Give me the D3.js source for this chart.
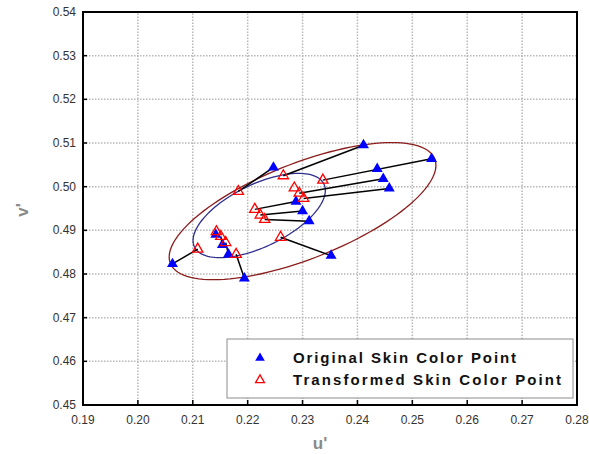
<!DOCTYPE html>
<meta charset="utf-8" />
<script src="https://d3js.org/d3.v7.min.js"></script>
<style>
  body { margin: 0; background: #fff; }
  text { font-family: "Liberation Sans", Arial, sans-serif; }
</style>
<body>
<div id="chart"></div>
<script>
  // original skin colour points (blue) and where each one was moved to (red)
  const origU = [0.2063, 0.2247, 0.2288, 0.2142, 0.2154, 0.2165, 0.2194, 0.2411, 0.2535, 0.2436, 0.2447, 0.2458, 0.2300, 0.2312, 0.2352];
  const origV = [0.4823, 0.5044, 0.4966, 0.4890, 0.4867, 0.4845, 0.4790, 0.5095, 0.5064, 0.5041, 0.5018, 0.4996, 0.4944, 0.4921, 0.4842];
  const transU = [0.2109, 0.2183, 0.2213, 0.2143, 0.2151, 0.2160, 0.2179, 0.2265, 0.2337, 0.2285, 0.2294, 0.2302, 0.2223, 0.2231, 0.2260];
  const transV = [0.4857, 0.4989, 0.4948, 0.4897, 0.4886, 0.4872, 0.4845, 0.5025, 0.5015, 0.4997, 0.4985, 0.4973, 0.4935, 0.4925, 0.4884];
  // which original -> transformed pairs have a visible connecting line
  const linked = [0, 1, 2, 3, 4, 5, 6, 7, 8, 10, 11, 12, 13, 14];

  // the two boundary ellipses: centre, half ranges and phase (deg)
  const ellCu = [0.2300, 0.2221];
  const ellCv = [0.4944, 0.4934];
  const ellRu = [0.0243, 0.01205];
  const ellRv = [0.0157, 0.00965];
  const ellPhase = [48, 53.5];
  const ellColor = ["#8b1c1c", "#2e2e8c"];

  const xTicks = [0.19, 0.20, 0.21, 0.22, 0.23, 0.24, 0.25, 0.26, 0.27, 0.28];
  const yTicks = [0.45, 0.46, 0.47, 0.48, 0.49, 0.50, 0.51, 0.52, 0.53, 0.54];
  const legendLabels = ["Original Skin Color Point", "Transformed Skin Color Point"];

  const W = 589, H = 454;
  const margin = {top: 12, right: 12, bottom: 49, left: 83};

  const svg = d3.select("#chart").append("svg")
    .attr("width", W).attr("height", H);

  const x = d3.scaleLinear().domain([0.19, 0.28]).range([margin.left, W - margin.right]);
  const y = d3.scaleLinear().domain([0.45, 0.54]).range([H - margin.bottom, margin.top]);

  // grid
  const grid = svg.append("g").attr("stroke", "#b8b8b8").attr("stroke-width", 1.5)
    .attr("stroke-dasharray", "1.5,1.5");
  grid.selectAll("line.gx").data(xTicks.slice(1, -1)).enter().append("line")
    .attr("x1", d => x(d)).attr("x2", d => x(d))
    .attr("y1", y.range()[0]).attr("y2", y.range()[1]);
  grid.selectAll("line.gy").data(yTicks.slice(1, -1)).enter().append("line")
    .attr("y1", d => y(d)).attr("y2", d => y(d))
    .attr("x1", x.range()[0]).attr("x2", x.range()[1]);

  // ellipses
  const angles = d3.range(0, 360, 3);
  const ellLine = d3.line().x(d => x(d[0])).y(d => y(d[1])).curve(d3.curveLinearClosed);
  ellCu.forEach(function(cu, i) {
    const pts = angles.map(function(a) {
      const t = a * Math.PI / 180, p = ellPhase[i] * Math.PI / 180;
      return [cu + ellRu[i] * Math.cos(t), ellCv[i] + ellRv[i] * Math.cos(t - p)];
    });
    svg.append("path").attr("d", ellLine(pts))
      .attr("fill", "none").attr("stroke", ellColor[i]).attr("stroke-width", 1.3);
  });

  // connecting lines
  svg.append("g").selectAll("line").data(linked).enter().append("line")
    .attr("x1", i => x(origU[i])).attr("y1", i => y(origV[i]))
    .attr("x2", i => x(transU[i])).attr("y2", i => y(transV[i]))
    .attr("stroke", "#000").attr("stroke-width", 1.5);

  const tri = d3.symbol(d3.symbolTriangle);

  svg.append("g").selectAll("path").data(origU).enter().append("path")
    .attr("d", tri.size(52)())
    .attr("transform", (d, i) => "translate(" + x(d) + "," + y(origV[i]) + ")")
    .attr("fill", "#0000ff");

  svg.append("g").selectAll("path").data(transU).enter().append("path")
    .attr("d", tri.size(46)())
    .attr("transform", (d, i) => "translate(" + x(d) + "," + y(transV[i]) + ")")
    .attr("fill", "none").attr("stroke", "#ff0000").attr("stroke-width", 1.3);

  // ticks (inside) on bottom and left
  svg.append("g").selectAll("line").data(xTicks.slice(1, -1)).enter().append("line")
    .attr("x1", d => x(d)).attr("x2", d => x(d))
    .attr("y1", y.range()[0]).attr("y2", y.range()[0] - 5)
    .attr("stroke", "#000").attr("stroke-width", 1.5);
  svg.append("g").selectAll("line").data(yTicks.slice(1, -1)).enter().append("line")
    .attr("y1", d => y(d)).attr("y2", d => y(d))
    .attr("x1", x.range()[0]).attr("x2", x.range()[0] + 4)
    .attr("stroke", "#000").attr("stroke-width", 1.5);

  // legend
  const lg = svg.append("g");
  lg.append("rect").attr("x", 227).attr("y", 339).attr("width", 346).attr("height", 59)
    .attr("fill", "#fff").attr("stroke", "#8c8c8c").attr("stroke-width", 1);
  lg.append("path").attr("d", tri.size(40)()).attr("transform", "translate(260,358)")
    .attr("fill", "#0000ff");
  lg.append("path").attr("d", tri.size(34)()).attr("transform", "translate(260,380)")
    .attr("fill", "none").attr("stroke", "#ff0000").attr("stroke-width", 1.3);
  lg.selectAll("text").data(legendLabels).enter().append("text")
    .attr("x", 293).attr("y", (d, i) => 363 + i * 22)
    .attr("textLength", (d, i) => i ? 268 : 223).attr("lengthAdjust", "spacing")
    .attr("font-size", 15).attr("font-weight", "bold").attr("fill", "#111")
    .text(d => d);

  // frame
  svg.append("rect").attr("x", x.range()[0]).attr("y", y.range()[1])
    .attr("width", x.range()[1] - x.range()[0]).attr("height", y.range()[0] - y.range()[1])
    .attr("fill", "none").attr("stroke", "#000").attr("stroke-width", 2);

  // tick labels
  svg.append("g").selectAll("text").data(xTicks).enter().append("text")
    .attr("x", d => x(d)).attr("y", y.range()[0] + 19)
    .attr("text-anchor", "middle").attr("font-size", 12).attr("fill", "#333")
    .text(d => d3.format(".2f")(d));
  svg.append("g").selectAll("text").data(yTicks).enter().append("text")
    .attr("x", x.range()[0] - 7).attr("y", d => y(d) + 4)
    .attr("text-anchor", "end").attr("font-size", 12).attr("fill", "#333")
    .text(d => d3.format(".2f")(d));

  // axis titles
  svg.append("text").attr("x", 320).attr("y", 449)
    .attr("text-anchor", "middle").attr("font-size", 17).attr("font-weight", "bold")
    .attr("fill", "#8a8a8a").text("u'");
  svg.append("text").attr("transform", "translate(28,210) rotate(-90)")
    .attr("text-anchor", "middle").attr("font-size", 17).attr("font-weight", "bold")
    .attr("fill", "#8a8a8a").text("v'");
</script>
</body>
